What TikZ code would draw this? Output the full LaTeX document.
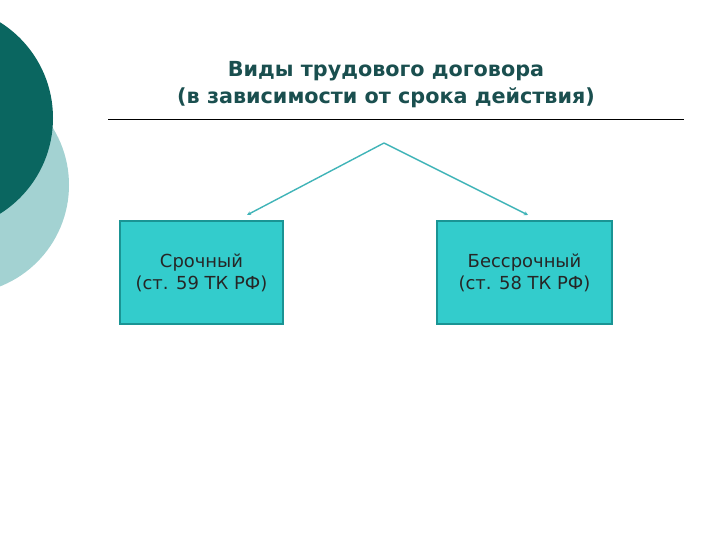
\documentclass[tikz,border=0pt]{standalone}
\usepackage{fontspec}
\setmainfont{DejaVu Sans}
\usetikzlibrary{arrows.meta}
\definecolor{darkteal}{HTML}{0A6660}
\definecolor{lightteal}{HTML}{A3D2D2}
\definecolor{boxfill}{HTML}{33CCCC}
\definecolor{boxline}{HTML}{1A9494}
\definecolor{titlecol}{HTML}{1A4F4F}
\definecolor{arrcol}{HTML}{40B4B8}
\tikzset{
  kindbox/.style={draw=boxline, line width=1.5pt, fill=boxfill, minimum height=103bp, text=black!85, font=\fontsize{18}{22}\selectfont, align=center, inner sep=0pt},
  conn/.style={draw=arrcol, line width=1.4pt, -{Stealth[length=4bp,width=4bp]}}
}
\begin{document}
\begin{tikzpicture}[x=1bp,y=-1bp]
\useasboundingbox (0,0) rectangle (720,540);
\fill[white] (0,0) rectangle (720,540);
\begin{scope}
\clip (0,0) rectangle (720,540);
\fill[lightteal] (-40,185) circle (109);
\fill[darkteal] (-60,118) circle (113);
\end{scope}
\node[text=titlecol, font=\bfseries\fontsize{20.8}{27}\selectfont, align=center] (title) at (386,85) {Виды трудового договора\\(в зависимости от срока действия)};
\draw[line width=1pt] (108,120) -- (684,120);
\coordinate (apex) at (384,143);
\node[kindbox, minimum width=163bp] (left) at (201.5,272.5) {Срочный\\(ст. 59 ТК РФ)};
\node[kindbox, minimum width=175bp] (right) at (524.5,272.5) {Бессрочный\\(ст. 58 ТК РФ)};
\coordinate (lend) at (247,215);
\coordinate (rend) at (528,215);
\draw[conn] (apex) -- (lend);
\draw[conn] (apex) -- (rend);
\end{tikzpicture}
\end{document}
